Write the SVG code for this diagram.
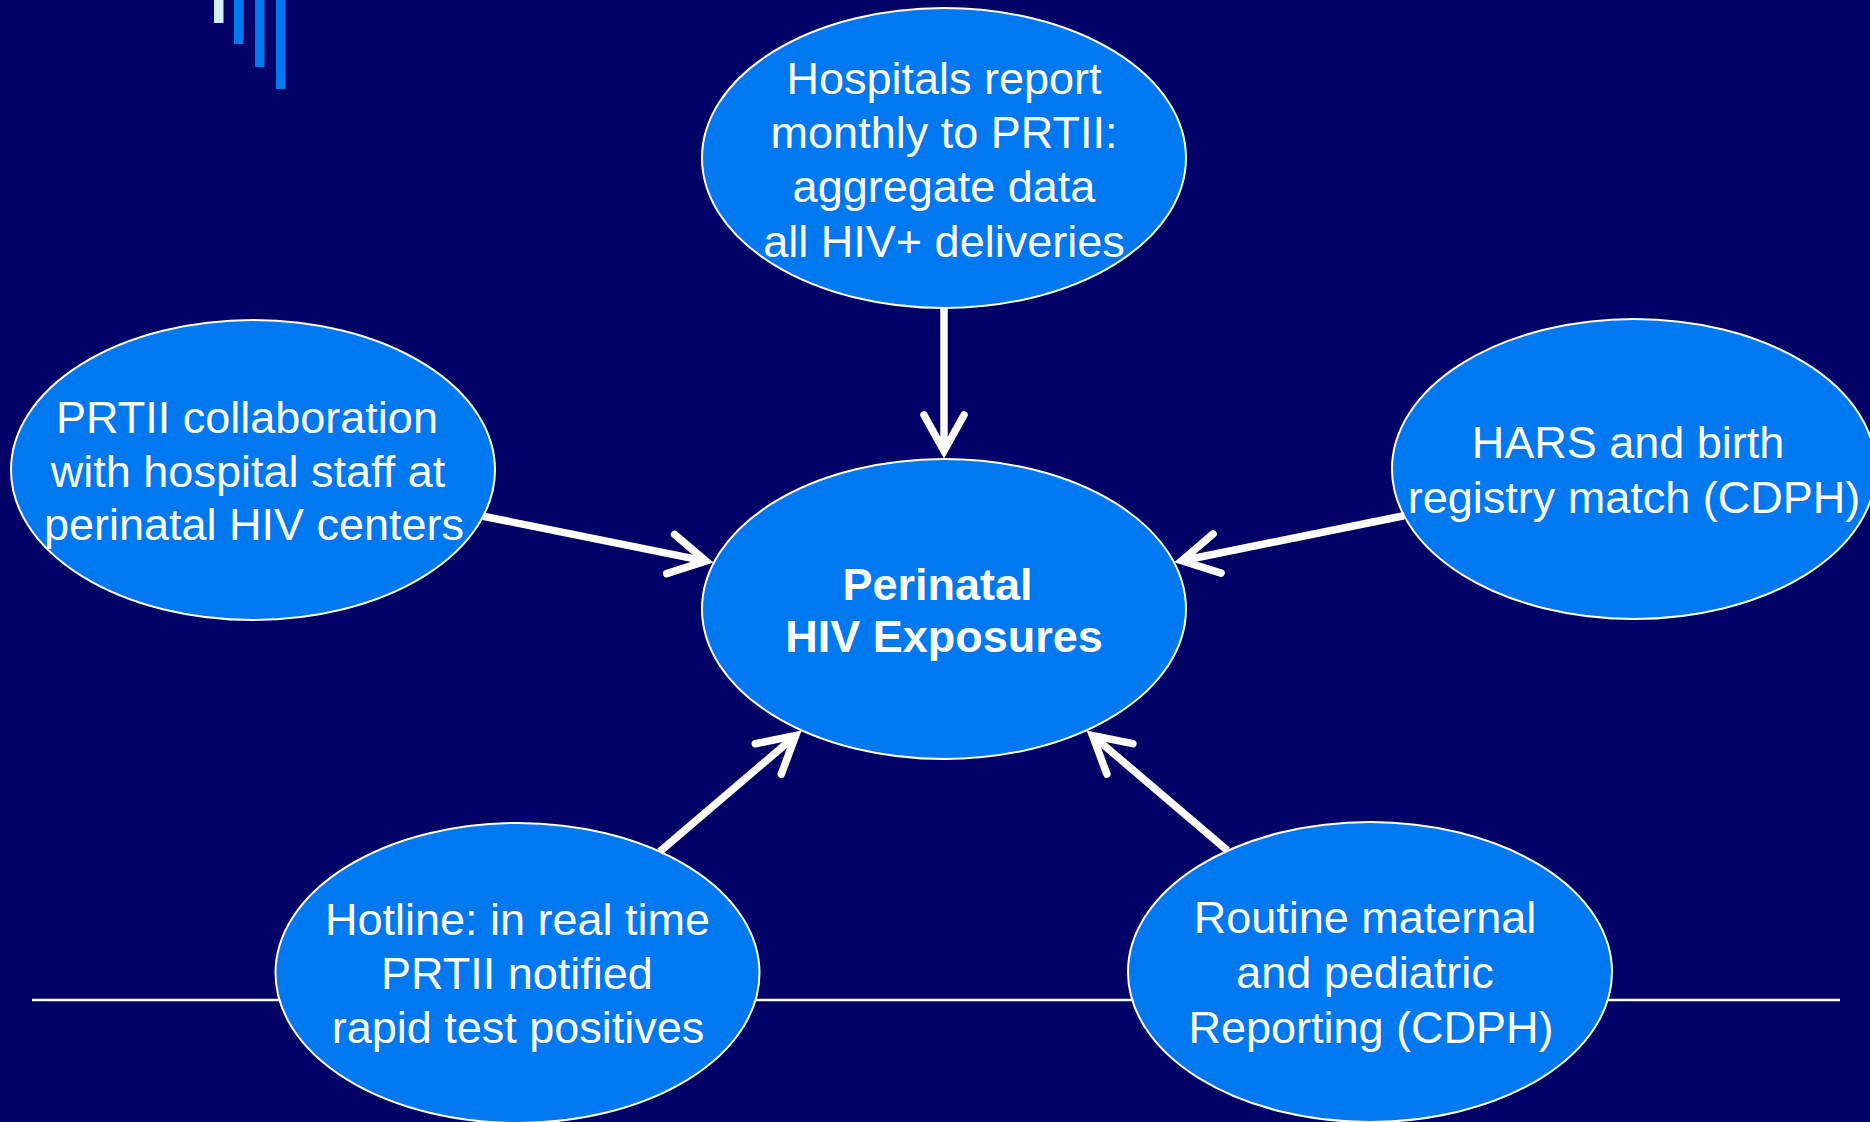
<svg xmlns="http://www.w3.org/2000/svg" width="1870" height="1122" viewBox="0 0 1870 1122">
  <style>
    .bg { fill: #000066; }
    .bar { fill: #0078F0; }
    .bar-light { fill: #D2EEFF; }
    .rule { stroke: #FFFFFF; stroke-width: 2.5; fill: none; }
    .node ellipse { fill: #0078F0; stroke: #FFFFFF; stroke-width: 2; }
    .node text { fill: #FFFFFF; font-family: "Liberation Sans", Arial, sans-serif; font-size: 45px; text-anchor: middle; }
    .node text.bold { font-weight: bold; }
    .link { stroke: #FFFFFF; stroke-width: 7.5; fill: none; marker-end: url(#chevron); }
  </style>
  <defs>
    <marker id="chevron" markerUnits="userSpaceOnUse" orient="auto" refX="0" refY="0" markerWidth="90" markerHeight="90" viewBox="-45 -45 90 90" overflow="visible">
      <path d="M -36 -20 L 0 0 L -36 20" fill="none" stroke="#FFFFFF" stroke-width="7.5" stroke-linecap="round" stroke-linejoin="miter"/>
    </marker>
  </defs>

  <!-- background -->
  <rect class="bg" x="0" y="0" width="1870" height="1122"/>

  <!-- corner bars -->
  <g id="corner-bars">
    <rect class="bar-light" x="214" y="0" width="9.5" height="23"/>
    <rect class="bar" x="234" y="0" width="9.5" height="44"/>
    <rect class="bar" x="255" y="0" width="9.5" height="67"/>
    <rect class="bar" x="276" y="0" width="9.5" height="89"/>
  </g>

  <!-- horizontal rule -->
  <line class="rule" x1="32" y1="1000" x2="1840" y2="1000"/>

  <!-- nodes -->
  <g id="node-hospitals" class="node">
    <ellipse cx="944" cy="158" rx="242" ry="150"/>
    <text x="944" y="93.5">Hospitals report</text>
    <text x="944" y="148">monthly to PRTII:</text>
    <text x="944" y="202">aggregate data</text>
    <text x="944" y="256.5">all HIV+ deliveries</text>
  </g>

  <g id="node-collaboration" class="node">
    <ellipse cx="253" cy="470" rx="242" ry="150"/>
    <text x="247" y="433.3">PRTII collaboration</text>
    <text x="248" y="486.7">with hospital staff at</text>
    <text x="254" y="540">perinatal HIV centers</text>
  </g>

  <g id="node-hars" class="node">
    <ellipse cx="1634" cy="469" rx="242" ry="150"/>
    <text x="1628" y="458.3">HARS and birth</text>
    <text x="1634" y="513.3">registry match (CDPH)</text>
  </g>

  <g id="node-center" class="node">
    <ellipse cx="944" cy="609" rx="242" ry="150"/>
    <text class="bold" x="937.5" y="600">Perinatal</text>
    <text class="bold" x="944" y="651.7">HIV Exposures</text>
  </g>

  <g id="node-hotline" class="node">
    <ellipse cx="517.5" cy="973" rx="242" ry="150"/>
    <text x="517.5" y="935">Hotline: in real time</text>
    <text x="517" y="989">PRTII notified</text>
    <text x="518" y="1043">rapid test positives</text>
  </g>

  <g id="node-routine" class="node">
    <ellipse cx="1370" cy="972" rx="242" ry="150"/>
    <text x="1365" y="933.3">Routine maternal</text>
    <text x="1365" y="988.3">and pediatric</text>
    <text x="1371" y="1042.7">Reporting (CDPH)</text>
  </g>

  <!-- connectors -->
  <g id="connectors">
    <path class="link" d="M 944 308 L 944 451"/>
    <path class="link" d="M 483.2 516.3 L 705.9 561.1"/>
    <path class="link" d="M 1404 515.7 L 1181.8 560.7"/>
    <path class="link" d="M 659.7 851.6 L 795.7 735.6"/>
    <path class="link" d="M 1227.6 850.7 L 1092.5 735.5"/>
  </g>
</svg>
